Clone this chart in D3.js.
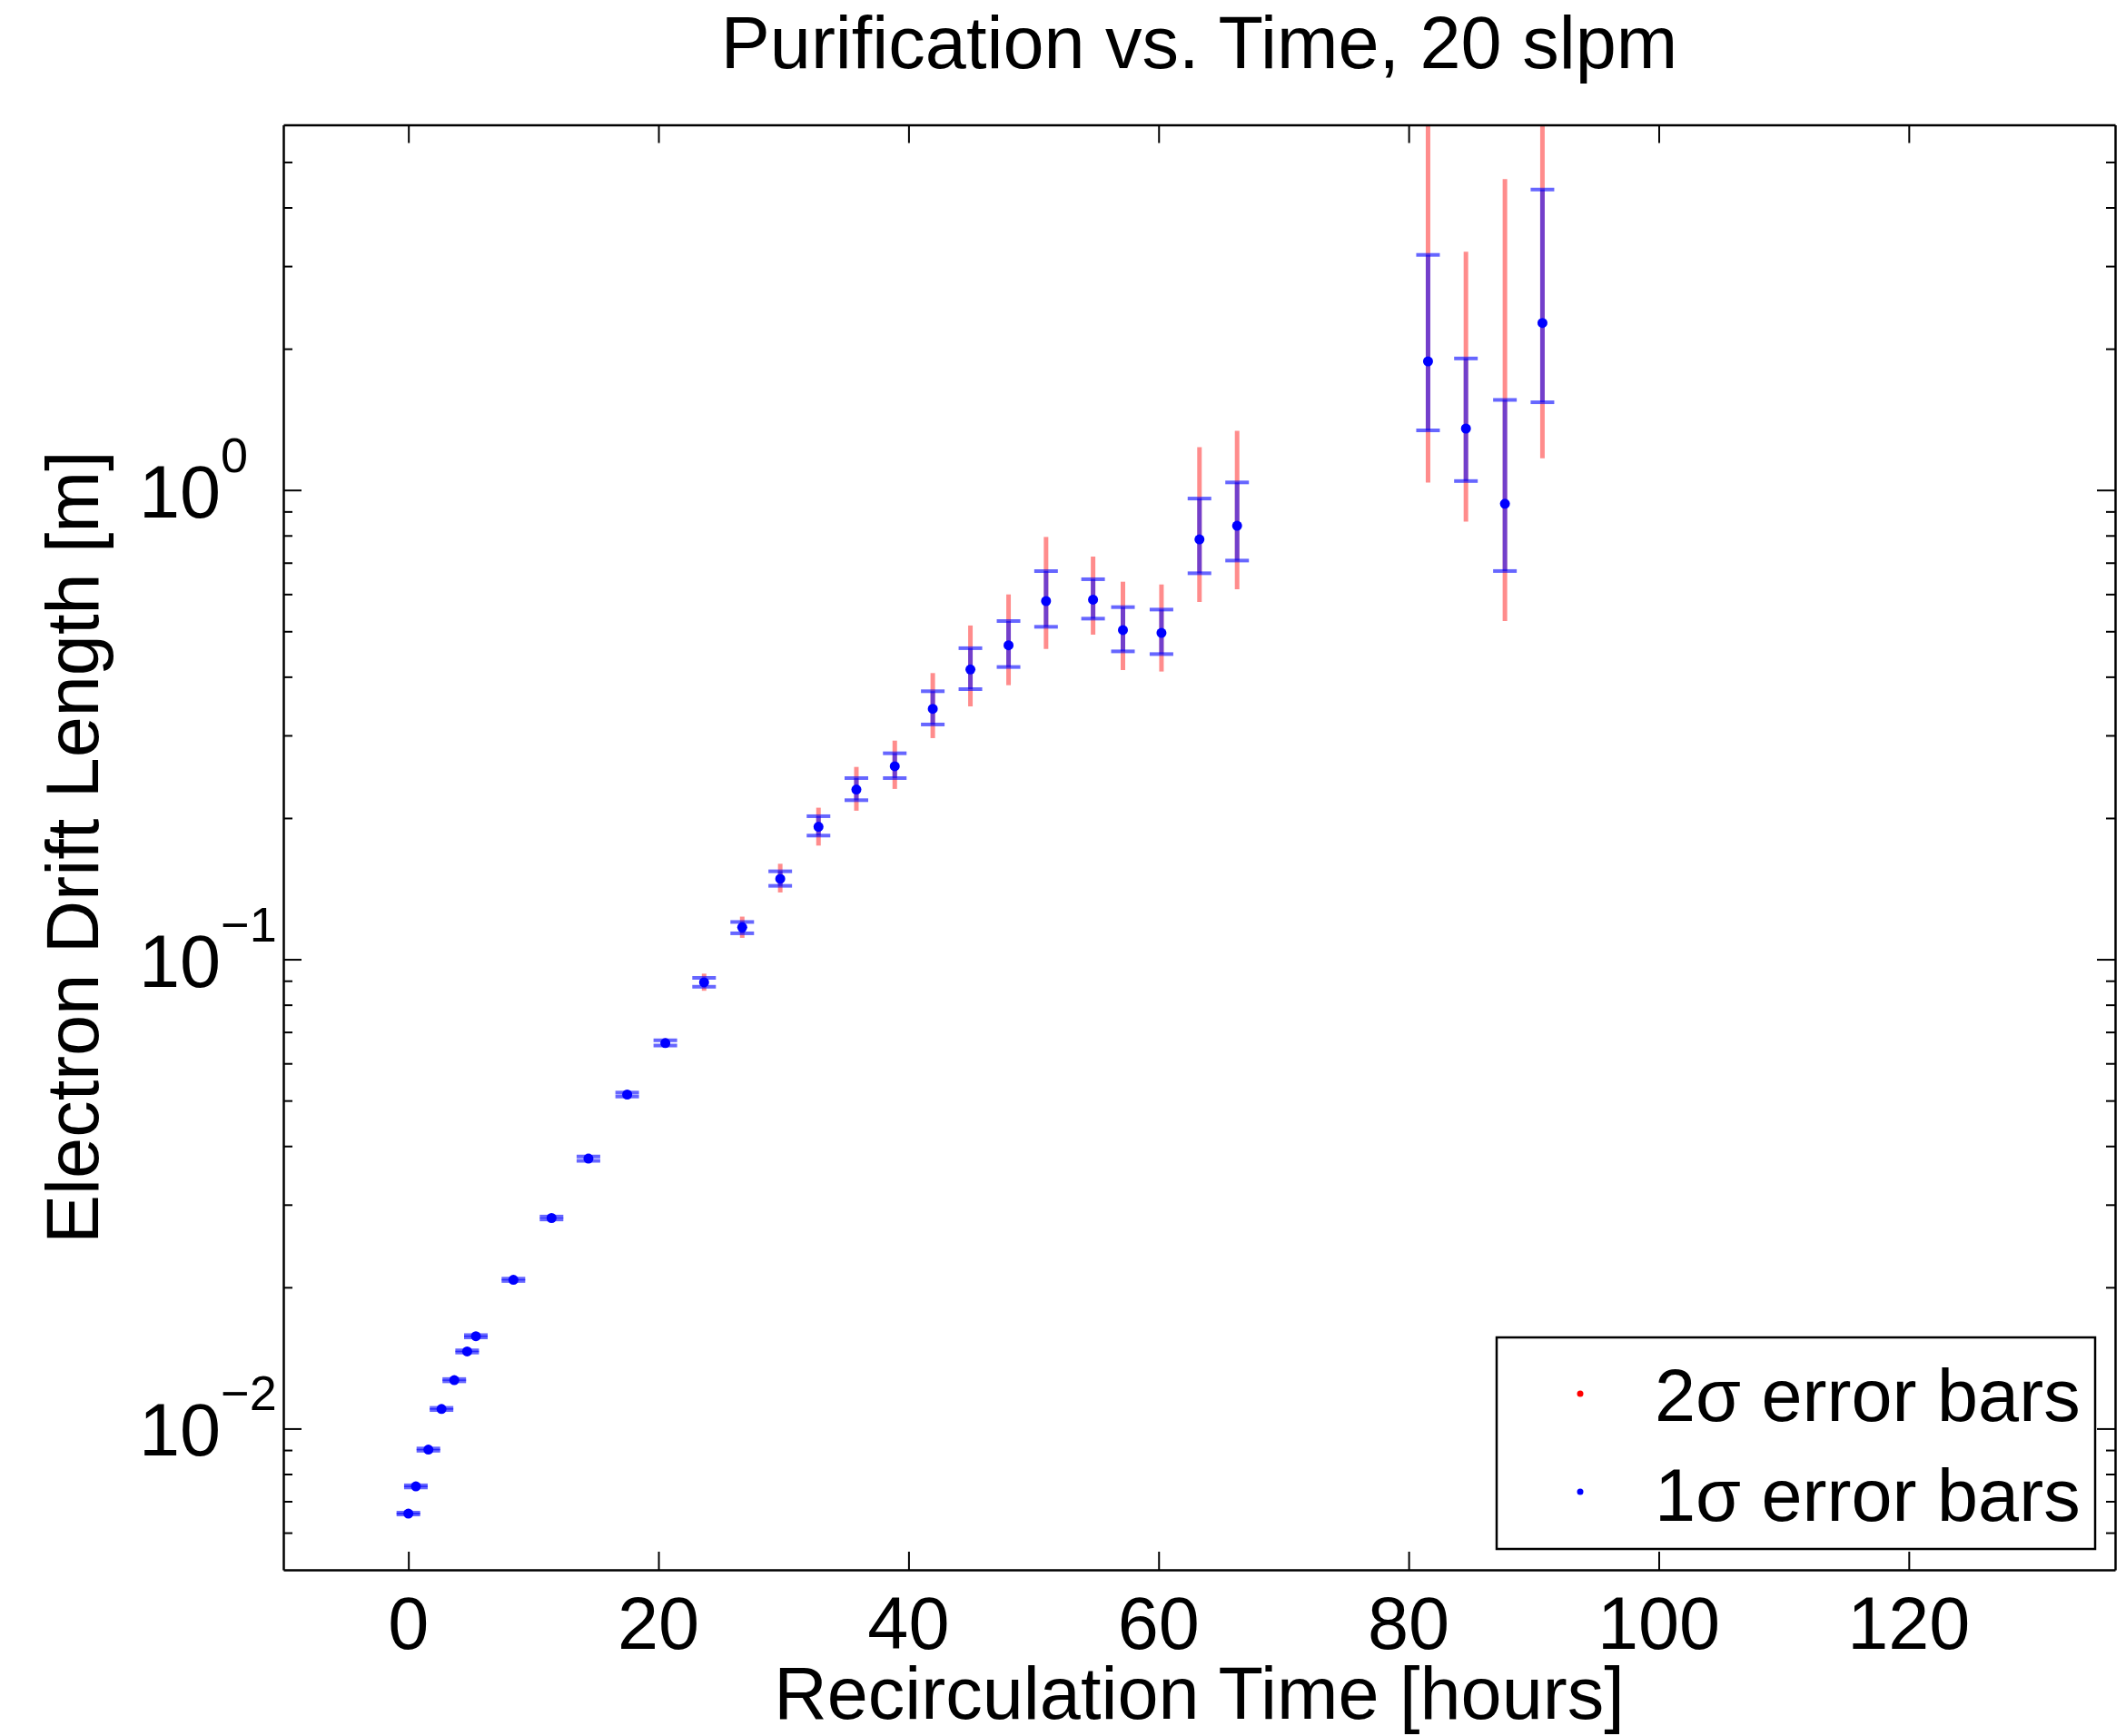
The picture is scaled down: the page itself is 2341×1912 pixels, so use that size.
<!DOCTYPE html>
<html><head><meta charset="utf-8">
<script src="https://cdn.jsdelivr.net/npm/d3@7"></script>
<style>
body{margin:0;background:#fff}
svg{display:block}
text{font-family:"Liberation Sans",Arial,Helvetica,sans-serif;fill:#000}
</style>
</head><body>
<svg id="chart" width="2341" height="1912"></svg>
<script>
// ---- data ----
const hours = [0, 0.6, 1.6, 2.65, 3.67, 4.7, 5.4, 8.4, 11.45, 14.4, 17.5, 20.55, 23.65, 26.7, 29.74, 32.8, 35.83, 38.9, 41.94, 44.95, 48.0, 51.0, 54.76, 57.15, 60.23, 63.27, 66.28, 81.55, 84.58, 87.7, 90.7];
const drift = [0.00659, 0.00753, 0.00902, 0.01101, 0.01268, 0.0146, 0.01573, 0.02075, 0.0281, 0.0376, 0.0515, 0.0663, 0.0893, 0.117, 0.1484, 0.1916, 0.230, 0.2578, 0.3418, 0.4146, 0.4669, 0.5799, 0.584, 0.503, 0.4961, 0.785, 0.839, 1.88, 1.352, 0.935, 2.27];
const upper1 = [0.00662, 0.00757, 0.00907, 0.01107, 0.01275, 0.01468, 0.01582, 0.02087, 0.0283, 0.0380, 0.0520, 0.0672, 0.0913, 0.1201, 0.1540, 0.2018, 0.2433, 0.2748, 0.3726, 0.4602, 0.5258, 0.6718, 0.6455, 0.5629, 0.5562, 0.959, 1.038, 3.17, 1.907, 1.556, 4.37];
const lower1 = [0.00656, 0.00749, 0.00897, 0.01095, 0.01261, 0.01452, 0.01564, 0.02063, 0.0279, 0.0372, 0.0510, 0.0655, 0.0874, 0.1136, 0.1434, 0.1835, 0.2183, 0.2433, 0.3165, 0.3764, 0.4196, 0.5111, 0.5320, 0.4531, 0.4471, 0.6647, 0.7074, 1.34, 1.045, 0.672, 1.538];
const upper2 = [0.00666, 0.00761, 0.00912, 0.01113, 0.01282, 0.01476, 0.01591, 0.02099, 0.0285, 0.0383, 0.0524, 0.0678, 0.0932, 0.1233, 0.1598, 0.2104, 0.2570, 0.2924, 0.4073, 0.5144, 0.5991, 0.7943, 0.7214, 0.6377, 0.6291, 1.234, 1.337, 8.0, 3.22, 4.60, 8.0];
const lower2 = [0.00652, 0.00745, 0.00892, 0.01089, 0.01254, 0.01444, 0.01555, 0.02051, 0.0277, 0.0369, 0.0506, 0.0648, 0.0857, 0.1111, 0.1388, 0.1747, 0.2073, 0.2307, 0.2960, 0.3459, 0.3838, 0.4585, 0.4918, 0.4134, 0.4104, 0.5774, 0.6146, 1.037, 0.856, 0.526, 1.169];
const xTickValues = [0, 20, 40, 60, 80, 100, 120];
const yTickValues = [0.01, 0.1, 1];
const yTickExponents = ["\u22122", "\u22121", "0"];
const legendLabels = ["2\u03c3 error bars", "1\u03c3 error bars"];
const titleText = "Purification vs. Time, 20 slpm";
const xLabelText = "Recirculation Time [hours]";
const yLabelText = "Electron Drift Length [m]";

// ---- layout ----
const FS = 81;
const plot = {l: 312, r: 2329, t: 137.5, b: 1729};
const svg = d3.select("#chart");
const x = d3.scaleLinear().domain([-10, 136.5]).range([plot.l, plot.r]);
const y = d3.scaleLog().domain([0.005, 6]).range([plot.b, plot.t]);

const pts = hours.map((h, i) => ({h, v: drift[i], u1: upper1[i], l1: lower1[i], u2: upper2[i], l2: lower2[i]}));

// clip
svg.append("defs").append("clipPath").attr("id", "clip")
  .append("rect").attr("x", plot.l).attr("y", plot.t).attr("width", plot.r - plot.l).attr("height", plot.b - plot.t);

const g = svg.append("g").attr("clip-path", "url(#clip)");
// 2 sigma (red)
g.selectAll("line.e2").data(pts).join("line").attr("class", "e2")
  .attr("x1", d => x(d.h)).attr("x2", d => x(d.h))
  .attr("y1", d => y(d.l2)).attr("y2", d => y(d.u2))
  .attr("stroke", "rgb(255,0,0)").attr("stroke-opacity", 0.45).attr("stroke-width", 5);
g.selectAll("circle.p2").data(pts).join("circle").attr("class", "p2")
  .attr("cx", d => x(d.h)).attr("cy", d => y(d.v)).attr("r", 4).attr("fill", "#ff0000");
// 1 sigma (blue)
g.selectAll("line.e1").data(pts).join("line").attr("class", "e1")
  .attr("x1", d => x(d.h)).attr("x2", d => x(d.h))
  .attr("y1", d => y(d.l1)).attr("y2", d => y(d.u1))
  .attr("stroke", "rgb(0,0,255)").attr("stroke-opacity", 0.55).attr("stroke-width", 5);
const capW = 13;
["u1", "l1"].forEach(k => {
  g.selectAll("line.cap" + k).data(pts).join("line").attr("class", "cap" + k)
    .attr("x1", d => x(d.h) - capW).attr("x2", d => x(d.h) + capW)
    .attr("y1", d => y(d[k])).attr("y2", d => y(d[k]))
    .attr("stroke", "rgb(0,0,255)").attr("stroke-opacity", 0.6).attr("stroke-width", 4);
});
g.selectAll("circle.p").data(pts).join("circle").attr("class", "p")
  .attr("cx", d => x(d.h)).attr("cy", d => y(d.v)).attr("r", 5.5).attr("fill", "#0000ff");

// ---- axes (ticks inward on all four sides) ----
const minorY = y.ticks(40).filter(v => {
  const lg = Math.log10(v); return Math.abs(lg - Math.round(lg)) > 1e-6;
}).filter(v => y(v) > plot.t + 2 && y(v) < plot.b - 2);

function styleAxis(sel) {
  sel.select(".domain").attr("stroke", "#000").attr("stroke-width", 2.5);
  sel.selectAll(".tick line").attr("stroke", "#000").attr("stroke-width", 2);
  sel.selectAll(".tick text").remove();
}
const axes = [
  [d3.axisBottom(x), `translate(0,${plot.b})`, xTickValues],
  [d3.axisTop(x), `translate(0,${plot.t})`, xTickValues],
  [d3.axisLeft(y), `translate(${plot.l},0)`, yTickValues],
  [d3.axisRight(y), `translate(${plot.r},0)`, yTickValues]
];
axes.forEach(([ax, tr, tv]) => {
  svg.append("g").attr("transform", tr)
    .call(ax.tickValues(tv).tickSizeInner(-20).tickSizeOuter(0).tickFormat(""))
    .call(styleAxis);
});
[[d3.axisLeft(y), `translate(${plot.l},0)`], [d3.axisRight(y), `translate(${plot.r},0)`]].forEach(([ax, tr]) => {
  const s = svg.append("g").attr("transform", tr)
    .call(ax.tickValues(minorY).tickSizeInner(-10).tickSizeOuter(0).tickFormat(""))
    .call(styleAxis);
  s.select(".domain").remove();
});

// x tick labels
svg.append("g").selectAll("text").data(xTickValues).join("text")
  .attr("x", d => x(d)).attr("y", plot.b + 87)
  .attr("text-anchor", "middle").attr("font-size", FS).text(d => d);

// y tick labels 10^n
const yl = svg.append("g").selectAll("text").data(yTickValues).join("text")
  .attr("y", d => y(d) + 30).attr("font-size", FS);
yl.append("tspan").attr("x", 153).text("10");
yl.append("tspan").attr("dy", -50).attr("font-size", 54).text((d, i) => yTickExponents[i]);

// title and labels
svg.append("text").attr("x", (plot.l + plot.r) / 2).attr("y", 75)
  .attr("text-anchor", "middle").attr("font-size", FS).text(titleText);
svg.append("text").attr("x", (plot.l + plot.r) / 2).attr("y", 1893)
  .attr("text-anchor", "middle").attr("font-size", FS).text(xLabelText);
svg.append("text").attr("transform", `translate(108,${(plot.t + plot.b) / 2}) rotate(-90)`)
  .attr("text-anchor", "middle").attr("font-size", FS).text(yLabelText);

// legend
const lg = svg.append("g");
lg.append("rect").attr("x", 1648).attr("y", 1473).attr("width", 659).attr("height", 233)
  .attr("fill", "#fff").attr("stroke", "#000").attr("stroke-width", 2.5);
const legendColors = ["#ff0000", "#0000ff"];
legendLabels.forEach((t, i) => {
  lg.append("circle").attr("cx", 1740).attr("cy", 1535 + i * 108).attr("r", 3.5).attr("fill", legendColors[i]);
  lg.append("text").attr("x", 1822).attr("y", 1565 + i * 110).attr("font-size", FS).text(t);
});
</script>
</body></html>
